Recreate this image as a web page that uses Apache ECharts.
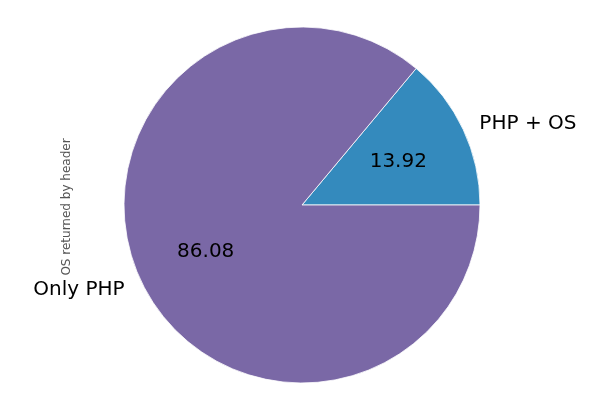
<!DOCTYPE html>
<html><head><meta charset="utf-8">
<script src="https://cdn.jsdelivr.net/npm/echarts@6/dist/echarts.min.js"></script>
<style>html,body{margin:0;padding:0;background:#fff}#c{width:603px;height:410px}</style>
</head><body><div id="c"></div>
<script>
const categories = ['PHP + OS', 'Only PHP'];
const values = [13.92, 86.08];
const colors = ['#348ABD', '#7A68A6'];
const yLabel = 'OS returned by header';

const R = 178, CX = 302, CY = 205;
const FONT = 'DejaVu Sans';
const chart = echarts.init(document.getElementById('c'), null, {renderer: 'canvas'});
const data = categories.map((c, i) => ({name: c, value: values[i], itemStyle: {color: colors[i]}}));
const rich = {t: {fontFamily: FONT, fontSize: 20, color: '#000', padding: [4, 0, 0, 0]}};
chart.setOption({
  animation: false,
  series: [
    {
      type: 'pie', center: [CX, CY], radius: [0, R], startAngle: 0, clockwise: false,
      avoidLabelOverlap: false, silent: true,
      itemStyle: {borderColor: '#ffffff', borderWidth: 0.8},
      label: {show: true, position: 'outside', formatter: p => '{t|' + p.name + '}', color: '#000', fontFamily: FONT, fontSize: 20,
              distanceToLabelLine: 0, alignTo: 'none', rich: rich},
      labelLine: {show: false, length: R * 0.1, length2: 0},
      data: data
    },
    {
      type: 'pie', center: [CX, CY], radius: [R * 0.2 - 7, R], startAngle: 0, clockwise: false,
      avoidLabelOverlap: false, silent: true,
      itemStyle: {color: 'rgba(0,0,0,0)', borderWidth: 0},
      label: {show: true, position: 'inside', formatter: p => '{t|' + p.value.toFixed(2) + '}', color: '#000', fontFamily: FONT, fontSize: 20,
              rich: rich},
      labelLine: {show: false},
      data: categories.map((c, i) => ({name: c, value: values[i]}))
    }
  ],
  graphic: [{
    type: 'text', x: 67, y: 207, rotation: Math.PI / 2,
    style: {text: yLabel, fill: '#555555', font: '12px "DejaVu Sans"', align: 'center', verticalAlign: 'middle'}
  }]
});
</script></body></html>
